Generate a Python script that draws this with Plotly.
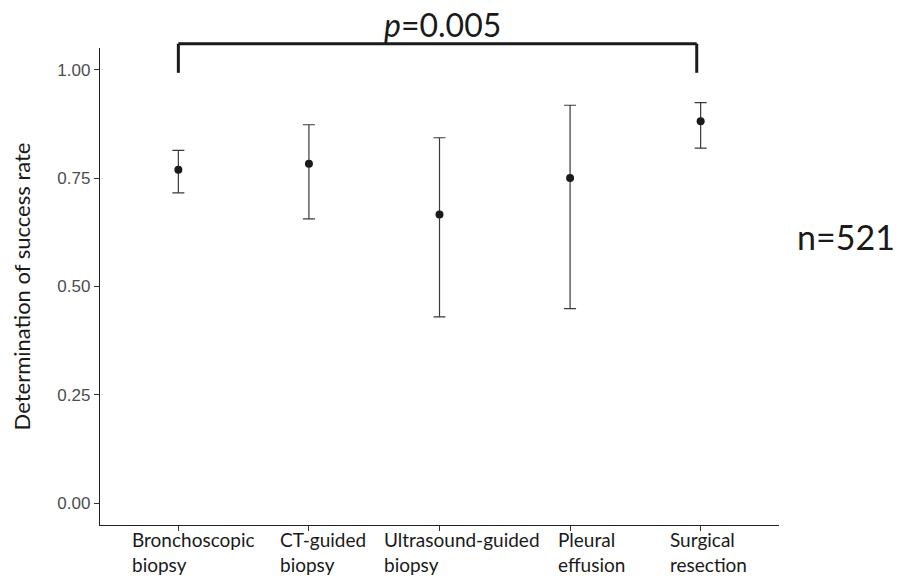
import plotly.graph_objects as go

categories = ["Bronchoscopic\nbiopsy", "CT-guided\nbiopsy", "Ultrasound-guided\nbiopsy",
              "Pleural\neffusion", "Surgical\nresection"]
rate = [0.769, 0.783, 0.666, 0.750, 0.881]
lower = [0.716, 0.656, 0.430, 0.449, 0.819]
upper = [0.814, 0.873, 0.843, 0.918, 0.924]
y_ticks = [0.00, 0.25, 0.50, 0.75, 1.00]
p_label = "<i>p</i>=0.005"
n_label = "n=521"

x_idx = list(range(len(categories)))
err_plus = [u - r for u, r in zip(upper, rate)]
err_minus = [r - l for r, l in zip(rate, lower)]

fig = go.Figure()
fig.add_trace(go.Scatter(
    x=x_idx, y=rate, mode="markers",
    marker=dict(size=8, color="#1a1a1a"),
    error_y=dict(type="data", symmetric=False, array=err_plus, arrayminus=err_minus,
                 color="#3a3a3a", thickness=1.2, width=6),
    showlegend=False,
))

font_main = "Lato, 'Open Sans', sans-serif"
ticklabel_shift = [-48, -31, -58, -14, -33]
for i, lab in enumerate(categories):
    fig.add_annotation(x=i, y=0, xref="x", yref="paper", xanchor="left", yanchor="top",
                       align="left", text=lab.replace("\n", "<br>"), showarrow=False,
                       xshift=ticklabel_shift[i], yshift=-1,
                       font=dict(family=font_main, size=19, color="#1a1a1a"))

# significance bracket between first and last group
br_top, br_bot = 1.009, 0.948
left_i, right_i = 0, len(categories) - 1 - 0.03
for sh in [dict(x0=left_i, x1=left_i, y0=br_bot, y1=br_top),
           dict(x0=left_i, x1=right_i, y0=br_top, y1=br_top),
           dict(x0=right_i, x1=right_i, y0=br_top, y1=br_bot)]:
    fig.add_shape(type="line", xref="x", yref="paper", line=dict(color="#1a1a1a", width=3), **sh)
fig.add_annotation(x=(left_i + right_i) / 2, y=br_top, xref="x", yref="paper",
                   xanchor="center", yanchor="bottom", text=p_label, showarrow=False,
                   xshift=5, yshift=-2, font=dict(family=font_main, size=32, color="#1a1a1a"))
fig.add_annotation(x=1.0, y=0.605, xref="paper", yref="paper", xanchor="left", yanchor="middle",
                   text=n_label, showarrow=False, xshift=16,
                   font=dict(family=font_main, size=34, color="#1a1a1a"))

fig.update_layout(
    width=909, height=576,
    margin=dict(l=100, r=130, t=48, b=51),
    paper_bgcolor="white", plot_bgcolor="white",
    xaxis=dict(range=[-0.6, 4.6], tickvals=x_idx, ticktext=[""] * len(x_idx),
               showticklabels=False, showgrid=False, zeroline=False,
               showline=True, linecolor="#222222", linewidth=1.3,
               ticks="outside", ticklen=5, tickcolor="#333333", tickwidth=1.1),
    yaxis=dict(range=[-0.05, 1.05], tickvals=y_ticks, ticktext=[f"{v:.2f}" for v in y_ticks],
               showgrid=False, zeroline=False,
               showline=True, linecolor="#222222", linewidth=1.3,
               ticks="outside", ticklen=5, tickcolor="#333333", tickwidth=1.1,
               tickfont=dict(family="'Liberation Sans', Arial, sans-serif", size=17, color="#4d4d4d"),
               title=dict(text="Determination of success rate", standoff=20,
                          font=dict(family=font_main, size=22, color="#1a1a1a"))),
)

fig.write_html("out.html", config={"displayModeBar": False},
               post_script="document.body.style.margin='0';")
